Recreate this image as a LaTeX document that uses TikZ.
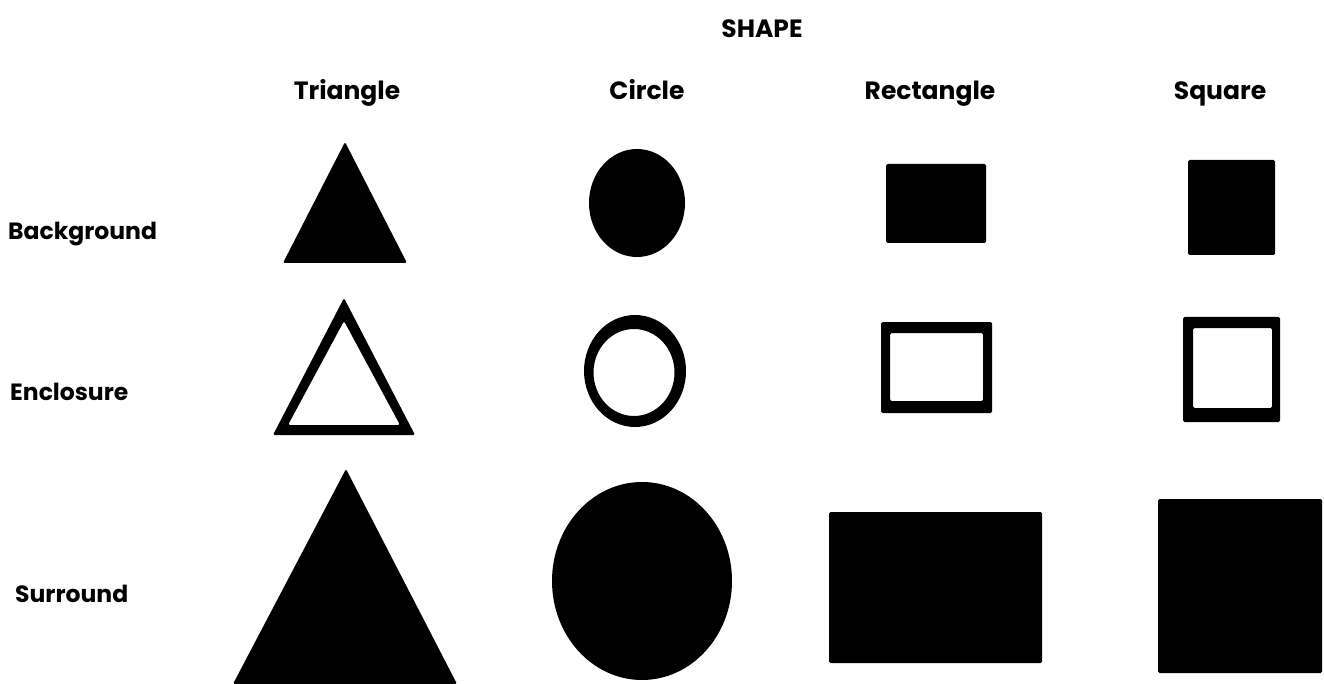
\documentclass[tikz,border=0pt]{standalone}
\usepackage{fontspec}
\setmainfont{Poppins}
\usetikzlibrary{positioning}

\begin{document}
\begin{tikzpicture}[x=1pt, y=-1pt,
    titletxt/.style={font=\fontsize{25}{30}\selectfont\bfseries, anchor=base, inner sep=0pt},
    coltxt/.style={font=\fontsize{25}{28}\selectfont\bfseries, anchor=base, inner sep=0pt},
    rowtxt/.style={font=\fontsize{23.5}{28}\selectfont\bfseries, anchor=base west, inner sep=0pt},
    solidfig/.style={fill=black, rounded corners=1.5pt},
    ringfig/.style={fill=black, even odd rule, rounded corners=1.5pt}
]
\useasboundingbox (0,0) rectangle (1324,684);
\node[titletxt] (shape) at (762,38) {SHAPE};
\node[coltxt] (triangle) at (347,100) {Triangle};
\node[coltxt] (circle) at (647,100) {Circle};
\node[coltxt] (rectangle) at (930,100) {Rectangle};
\node[coltxt] (square) at (1220,100) {Square};
\node[rowtxt] (background) at (8,240) {Background};
\node[rowtxt] (enclosure) at (10,400) {Enclosure};
\node[rowtxt] (surround) at (15,602) {Surround};
% background row
\fill[solidfig] (345,142) -- (407,263) -- (283,263) -- cycle;
\fill[solidfig] (637,203) ellipse [x radius=48, y radius=54];
\fill[solidfig] (886,164) rectangle (986,243);
\fill[solidfig] (1188,160) rectangle (1275,255);
% enclosure row
\fill[ringfig] (344,298) -- (415,435) -- (273,435) -- cycle
               (344,321) -- (400,425) -- (288,425) -- cycle;
\fill[ringfig] (635,371) ellipse [x radius=51, y radius=56]
               (634,372.5) ellipse [x radius=40.5, y radius=43.5];
\fill[ringfig] (881,322) rectangle (992,413) (890,333) rectangle (983,401);
\fill[ringfig] (1183,317) rectangle (1280,422) (1193,328) rectangle (1272,408);
% surround row
\fill[solidfig] (346,469) -- (457,684) -- (233,684) -- cycle;
\fill[solidfig] (642,581) ellipse [x radius=90, y radius=99];
\fill[solidfig] (829,512) rectangle (1042,663);
\fill[solidfig] (1158,499) rectangle (1322,673);
\end{tikzpicture}
\end{document}
